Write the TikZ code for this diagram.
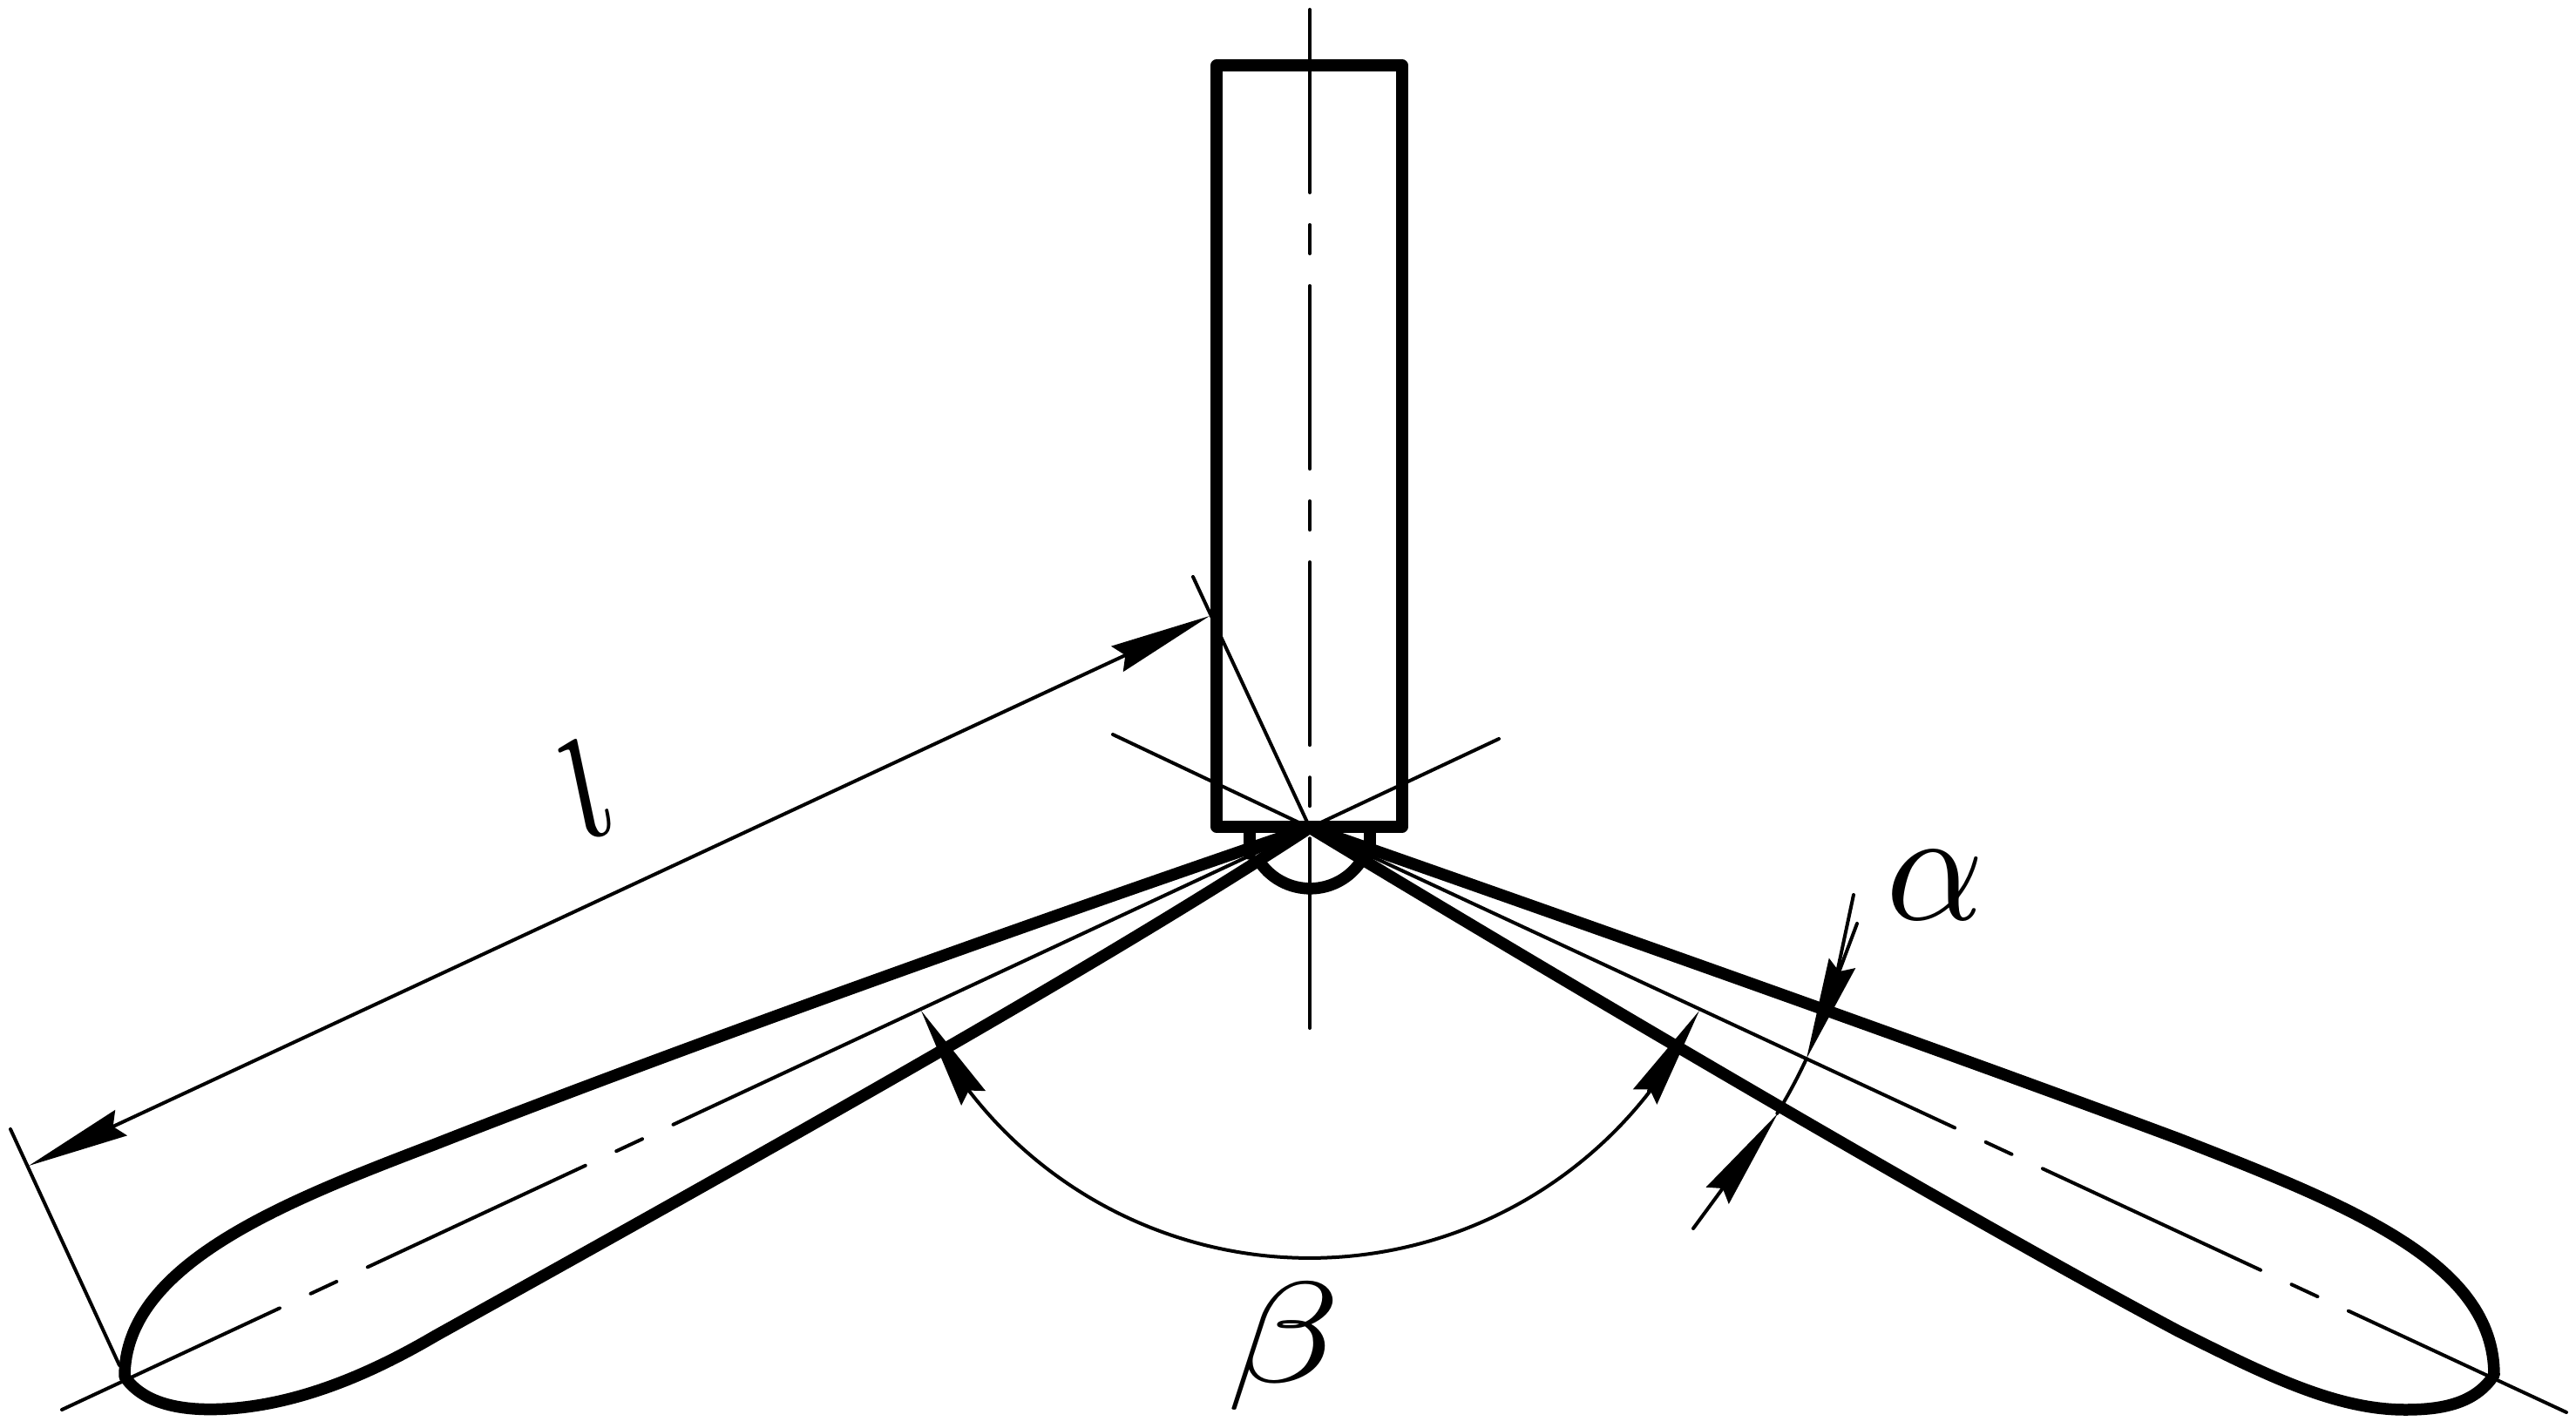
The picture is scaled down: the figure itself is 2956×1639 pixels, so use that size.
\documentclass[tikz,border=0pt]{standalone}
\usetikzlibrary{arrows.meta}
\definecolor{drawColor}{RGB}{0,0,0}
\definecolor{fillColor}{RGB}{255,255,255}
\tikzset{
  thickLine/.style={draw=drawColor,line width=3.24pt,line join=round,line cap=round},
  thinLine/.style={draw=drawColor,line width=0.96pt,line join=round,line cap=round},
  lobeAxis/.style={thinLine,dash pattern=on 66.2pt off 9.4pt on 7.9pt off 9.4pt on 66.2pt off 9.4pt on 7.9pt off 9.4pt on 400pt off 1pt},
  stemAxis/.style={thinLine,dash pattern=on 50.4pt off 8.9pt on 7.9pt off 8.9pt on 50.4pt off 8.9pt on 7.9pt off 8.9pt on 50.4pt off 8.9pt on 7.9pt off 8.9pt on 60pt off 1pt},
  dimTip/.tip={Stealth[length=28pt,width=7.7pt,inset=2.4pt]},
  symbolText/.style={text=drawColor,inner sep=0pt,outer sep=0pt}
}
\begin{document}
\begin{tikzpicture}[x=0.24pt,y=-0.24pt]
\path[use as bounding box,fill=fillColor] (0,0) rectangle (2956,1639);

\coordinate (apex) at (1503,950);
\coordinate (stemTop) at (1503,11);
\coordinate (stemEnd) at (1503,1180);
\coordinate (axisEndL) at (71,1618);
\coordinate (axisEndR) at (2945,1621);
\coordinate (axisOverL) at (1277,843);
\coordinate (axisOverR) at (1720,848);

\path[thinLine] (axisOverL) -- (apex) -- (axisOverR);
\path[stemAxis] (stemTop) -- (stemEnd);
\path[lobeAxis] (axisEndL) -- (apex);
\path[lobeAxis] (axisEndR) -- (apex);

\path[thickLine] (1396,75) rectangle (1609,949);
\path[thickLine] (1434,956) -- (1434,980);
\path[thickLine] (1572,956) -- (1572,980);
\path[thickLine] (1446,990) arc[start angle=145,end angle=35,radius=70];

\coordinate (tipL) at (143,1580);
\coordinate (tipR) at (2862,1578);
\path[thickLine] (apex) .. controls (1250,1036) and (800,1195) .. (500,1313)
	.. controls (330,1378) and (143,1450) .. (tipL)
	.. controls (165,1612) and (210,1620) .. (260,1617)
	.. controls (340,1612) and (420,1580) .. (500,1533)
	.. controls (1000,1255) and (1300,1083) .. (apex);
\path[thickLine] (apex) .. controls (1760,1040) and (2200,1195) .. (2500,1307)
	.. controls (2700,1385) and (2862,1450) .. (tipR)
	.. controls (2840,1612) and (2800,1618) .. (2760,1618)
	.. controls (2680,1618) and (2600,1578) .. (2500,1528)
	.. controls (2250,1395) and (1800,1130) .. (apex);

\coordinate (extEndL) at (12,1296);
\coordinate (extFootL) at (137,1567);
\coordinate (extEndR) at (1369,662);
\coordinate (lenTipL) at (33,1338);
\coordinate (lenTipR) at (1388,707);
\path[thinLine] (extEndL) -- (extFootL);
\path[thinLine] (extEndR) -- (apex);
\path[thinLine,dimTip-dimTip] (lenTipL) -- (lenTipR);

\coordinate (betaTipL) at (1057,1160);
\coordinate (betaTipR) at (1950,1160);
\coordinate (betaTailL) at (1112,1252);
\coordinate (betaTailR) at (1892,1252);
\path[thinLine] (betaTailL) arc[start angle=142.3,end angle=37.7,radius=494];
\path[thinLine,-dimTip] (betaTailL) -- (betaTipL);
\path[thinLine,-dimTip] (betaTailR) -- (betaTipR);

\coordinate (alphaTipU) at (2073,1215);
\coordinate (alphaTipD) at (2040,1278);
\coordinate (alphaTailU) at (2131,1060);
\coordinate (alphaFarU) at (2127,1027);
\coordinate (alphaNotchU) at (2109,1112);
\coordinate (alphaTailD) at (1943,1410);
\path[thinLine] (alphaTipU) arc[start angle=24.9,end angle=31.4,radius=629];
\path[thinLine,-dimTip] (alphaTailU) -- (alphaTipU);
\path[thinLine] (alphaFarU) -- (alphaNotchU);
\path[thinLine,-dimTip] (alphaTailD) -- (alphaTipD);

\node[symbolText,rotate=26,scale=3.9] (lenLabel) at (672,905) {$l$};
\node[symbolText,xscale=4.2,yscale=4.4] (alphaLabel) at (2221,1016) {$\alpha$};
\node[symbolText,xscale=5.1,yscale=3.95] (betaLabel) at (1473,1545) {$\beta$};
\end{tikzpicture}
\end{document}
